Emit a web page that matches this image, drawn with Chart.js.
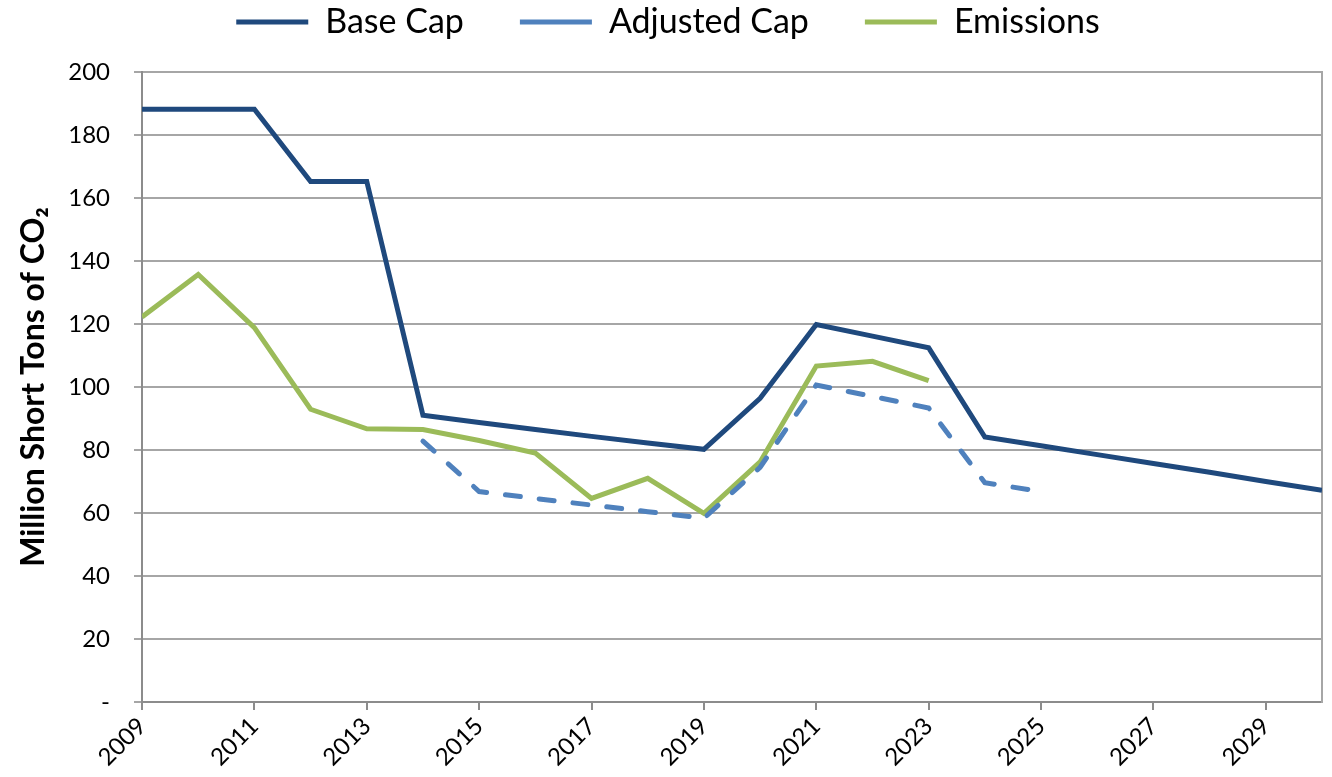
<!DOCTYPE html>
<html>
<head>
<meta charset="utf-8">
<script src="https://cdn.jsdelivr.net/npm/chart.js@4.4.1/dist/chart.umd.min.js"></script>
<style>
  html, body { margin: 0; padding: 0; background: #fff; }
  #wrap { width: 1332px; height: 777px; position: relative; }
</style>
</head>
<body>
<div id="wrap"><canvas id="chartCap"></canvas></div>
<script>
// Dados
const years = [2009, 2010, 2011, 2012, 2013, 2014, 2015, 2016, 2017, 2018, 2019,
               2020, 2021, 2022, 2023, 2024, 2025, 2026, 2027, 2028, 2029, 2030];
const baseCap = [188.1, 188.1, 188.1, 165.2, 165.2, 91.0, 88.7, 86.5, 84.3, 82.2, 80.2,
                 96.4, 119.8, 116.1, 112.4, 84.1, 81.3, 78.5, 75.7, 72.9, 70.0, 67.2];
const adjustedCap = [null, null, null, null, null, 82.8, 66.8, 64.6, 62.5, 60.4, 58.3,
                     74.5, 100.6, 97.0, 93.3, 69.6, 66.8, null, null, null, null, null];
const emissions = [122.2, 135.7, 118.8, 92.9, 86.7, 86.5, 83.0, 79.0, 64.6, 71.0, 59.9,
                   76.2, 106.6, 108.1, 102.0, null, null, null, null, null, null, null];
const xTickYears = [2009, 2011, 2013, 2015, 2017, 2019, 2021, 2023, 2025, 2027, 2029];

const FONT = 'Lato, "Open Sans", sans-serif';
const GRID = '#a6a6a6';
const AXIS = '#8c8c8c';

function toPoints(values) {
    return years.map((y, i) => ({ x: y, y: values[i] }));
}

document.addEventListener('DOMContentLoaded', () => {
    const ctx = document.getElementById('chartCap').getContext('2d');

    new Chart(ctx, {
        type: 'line',
        data: {
            datasets: [{
                label: 'Base Cap',
                data: toPoints(baseCap),
                borderColor: '#1f497d',
                backgroundColor: '#1f497d',
                borderWidth: 5,
                pointRadius: 0,
                tension: 0
            }, {
                label: 'Adjusted Cap',
                data: toPoints(adjustedCap),
                borderColor: '#4f81bd',
                backgroundColor: '#4f81bd',
                borderWidth: 5,
                borderDash: [15, 19],
                borderCapStyle: 'round',
                pointRadius: 0,
                tension: 0
            }, {
                label: 'Emissions',
                data: toPoints(emissions),
                borderColor: '#9bbb59',
                backgroundColor: '#9bbb59',
                borderWidth: 5,
                pointRadius: 0,
                tension: 0
            }]
        },
        options: {
            responsive: true,
            maintainAspectRatio: false,
            animation: false,
            spanGaps: false,
            layout: { padding: { left: 14, right: 10, top: -51, bottom: 0 } },
            plugins: {
                legend: {
                    position: 'top',
                    labels: {
                        usePointStyle: true,
                        pointStyle: 'line',
                        pointStyleWidth: 72,
                        boxHeight: 5,
                        color: '#000',
                        padding: 56,
                        font: { family: FONT, size: 34 }
                    }
                },
                // espaço vazio entre a legenda e o gráfico
                title: {
                    display: true,
                    text: '',
                    position: 'top',
                    weight: 100,
                    padding: 0,
                    font: { size: 19 }
                },
                tooltip: { enabled: false }
            },
            scales: {
                x: {
                    type: 'linear',
                    min: 2009,
                    max: 2030,
                    afterBuildTicks: axis => {
                        axis.ticks = xTickYears.map(v => ({ value: v }));
                    },
                    afterFit: axis => { axis.height = 75; },
                    ticks: {
                        autoSkip: false,
                        maxRotation: 45,
                        minRotation: 45,
                        color: '#000',
                        padding: 2,
                        font: { family: FONT, size: 24 },
                        callback: v => String(v)
                    },
                    grid: {
                        drawOnChartArea: false,
                        drawTicks: true,
                        tickLength: 8,
                        color: AXIS,
                        lineWidth: 2
                    },
                    border: { color: AXIS, width: 2 }
                },
                y: {
                    min: 0,
                    max: 200,
                    afterFit: axis => { axis.width = 128; },
                    ticks: {
                        stepSize: 20,
                        color: '#000',
                        padding: 24,
                        font: { family: FONT, size: 24 },
                        callback: v => v === 0 ? '-' : v
                    },
                    grid: {
                        color: GRID,
                        lineWidth: 2,
                        tickLength: 8
                    },
                    border: { color: AXIS, width: 2 },
                    title: {
                        display: true,
                        text: 'Million Short Tons of CO₂',
                        color: '#000',
                        font: { family: FONT, size: 32, weight: 'bold' },
                        padding: { top: 0, bottom: 0 }
                    }
                },
                yRight: {
                    position: 'right',
                    min: 0,
                    max: 200,
                    ticks: { display: false },
                    grid: { drawOnChartArea: false, drawTicks: false },
                    border: { color: GRID, width: 2 }
                }
            }
        }
    });
});
</script>
</body>
</html>
